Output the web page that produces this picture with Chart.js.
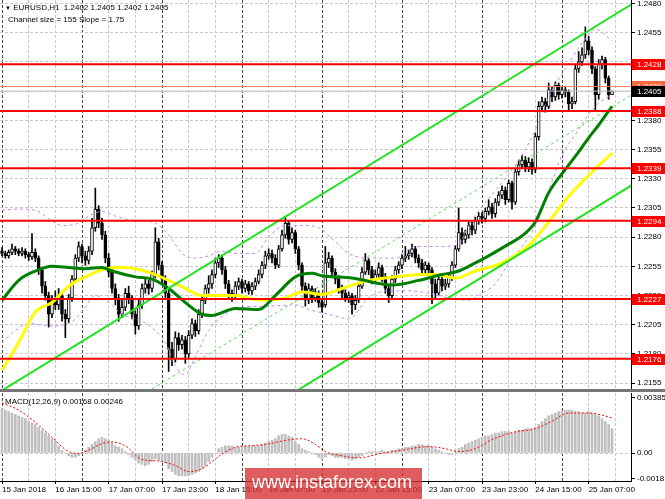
<!DOCTYPE html>
<html>
<head>
<meta charset="utf-8">
<script src="https://cdn.jsdelivr.net/npm/chart.js@4.4.0/dist/chart.umd.min.js"></script>
<style>
  body { margin:0; background:#fff; width:665px; height:499px; overflow:hidden; position:relative;
         font-family:"Liberation Sans", Arial, sans-serif; }
  canvas { position:absolute; left:0; }
  #main { top:0; }
  #macd { top:391px; }
  .txt { position:absolute; font-size:8px; line-height:10px; color:#000; white-space:pre; }
  #sep { position:absolute; left:0; top:389px; width:665px; height:3px; background:#767676; }
  #wm { position:absolute; left:245px; top:468px; width:177px; height:31px; background:rgba(214,48,48,.78); }
  #wm span { position:absolute; left:7px; top:5px; font-size:18px; line-height:18px; color:#fff; }
</style>
</head>
<body>
<canvas id="main" width="665" height="389"></canvas>
<canvas id="macd" width="665" height="108"></canvas>
<div id="sep"></div>
<div class="txt" style="left:5px;top:3px"><span style="font-size:6px">▼</span> EURUSD,H1  1.2402 1.2405 1.2402 1.2405</div>
<div class="txt" style="left:8px;top:15px">Channel size = 155 Slope = 1.75</div>
<div class="txt" style="left:5px;top:397px">MACD(12,26,9) 0.00168 0.00246</div>
<div id="wm"><span>www.instaforex.com</span></div>

<script>
// EURUSD H1, one bar per hour. Candle values are pips above 1.2000.
const BASE = 1.2, PIP = 0.0001;

const opens = [268,266,264,267,270,268,266,268,265,263, 267,262,252,238,230,214,226,222,230,214,
  210,228,244,262,272,264,260,268,288,304, 292,282,262,250,236,228,214,220,232,228,
  214,204,222,236,240,236,248,276,256,244, 232,184,176,194,188,192,180,196,206,200,
  214,226,236,240,248,258,262,252,240,232, 230,238,242,236,240,234,238,242,248,256,
  264,266,262,256,270,282,292,278,284,270, 256,238,226,236,228,232,224,222,258,262,
  250,244,236,232,228,230,222,226,238,250, 260,252,244,248,254,246,236,230,244,252,
  256,262,264,266,270,262,258,252,256,252, 240,232,244,238,240,246,256,270,284,278,
  282,290,286,294,298,296,302,306,300,310, 316,320,312,326,310,336,342,346,340,344,
  338,366,392,396,392,406,400,410,402,406, 404,394,396,424,430,436,448,440,424,402,
  428,432,416,402];
const highs = [271,268,269,274,272,270,271,270,267,283, 270,264,254,242,233,230,234,236,232,218,
  231,247,265,276,274,268,272,296,322,307, 296,285,266,253,240,231,226,236,238,230,
  217,226,240,245,243,251,288,279,259,247, 235,190,199,198,196,195,200,210,209,218,
  229,239,247,252,262,265,264,255,243,235, 242,245,244,243,242,241,245,252,259,268,
  270,269,265,273,286,297,294,288,286,272, 258,241,240,238,236,234,227,272,267,264,
  253,247,239,235,233,232,230,241,254,266, 262,255,252,258,256,249,239,247,255,259,
  265,272,269,274,272,265,261,259,258,254, 244,247,246,244,249,259,273,305,288,286,
  293,293,297,301,301,305,312,309,313,319, 324,323,329,328,339,346,350,349,348,347,
  369,396,400,399,412,409,413,412,409,409, 406,400,427,439,442,460,452,443,426,432,
  435,434,418,405];
const lows = [264,262,262,265,265,264,264,262,260,261, 259,248,232,226,203,211,218,218,208,194,
  207,225,241,259,258,256,257,265,285,288, 278,258,246,232,222,208,211,217,223,210,
  197,201,219,232,231,233,245,252,240,228, 165,170,173,183,184,172,177,193,195,197,
  211,223,232,236,245,254,248,236,228,225, 228,235,232,233,231,231,235,240,245,253,
  261,258,253,254,268,279,274,275,266,252, 234,221,223,224,225,220,216,220,254,246,
  240,232,228,225,224,214,218,224,236,248, 248,240,241,245,242,232,224,228,241,249,
  253,259,261,263,258,254,248,249,248,223, 228,230,234,235,237,243,254,268,274,275,
  279,282,283,291,292,293,299,296,297,307, 313,308,310,304,308,333,339,336,336,334,
  335,363,388,387,390,396,397,398,399,400, 388,390,394,421,427,433,436,420,389,398,
  424,412,398,402];
const closes = [266,264,267,270,268,266,268,265,263,267, 262,252,238,230,214,226,222,230,214,210,
  228,244,262,272,264,260,268,288,304,292, 282,262,250,236,228,214,220,232,228,214,
  204,222,236,240,236,248,276,256,244,232, 184,176,194,188,192,180,196,206,200,214,
  226,236,240,248,258,262,252,240,232,230, 238,242,236,240,234,238,242,248,256,264,
  266,262,256,270,282,292,278,284,270,256, 238,226,236,228,232,224,220,258,262,250,
  244,236,232,228,230,222,226,238,250,260, 252,244,248,254,246,236,230,244,252,256,
  262,264,266,270,262,258,252,256,252,240, 232,244,238,240,246,256,270,284,278,282,
  290,286,294,298,296,302,306,300,310,316, 320,312,326,310,336,342,346,340,344,338,
  366,392,396,392,406,400,410,402,406,404, 394,396,424,430,436,448,440,424,402,428,
  432,416,402,405];

// moving averages and bands: [bar, pips above 1.2000]
const maGreen = [[0,226],[5,243],[10,251],[15,255],[20,254],[25,253],[30,254],[33,251],[40,246],[45,244],
  [50,236],[55,224],[60,214],[63,213],[70,219],[77,218],[82,230],[88,246],[93,249],[96,247],[105,245],
  [117,239],[125,243],[132,248],[137,251],[142,258],[146,264],[152,274],[156,281],[160,293],[164,318],
  [169,338],[173,353],[176,365],[179,376],[182,388],[183,392]];
const maYellow = [[0,166],[5,190],[10,216],[15,224],[20,238],[25,246],[30,252],[35,254],[40,253],[45,249],
  [50,243],[55,236],[60,230],[65,230],[70,230],[75,227],[80,226],[85,228],[90,233],[96,231],[102,236],
  [110,243],[118,246],[126,248],[130,248],[136,245],[142,251],[150,258],[158,273],[164,293],[170,315],
  [176,333],[183,352]];
const bandUpper = [[0,303],[5,304],[10,303],[14,296],[18,290],[22,291],[26,298],[30,302],[34,298],[40,294],
  [45,293],[50,282],[54,266],[58,262],[62,264],[66,268],[70,266],[76,266],[80,280],[85,290],[90,290],
  [95,288],[100,276],[104,266],[110,262],[118,262],[124,272],[132,272],[137,274],[140,290],[144,306],
  [148,320],[152,334],[156,350],[160,372],[164,400],[169,424],[174,446],[178,458],[183,448]];
const bandLower = [[0,190],[4,200],[8,206],[14,204],[20,206],[24,216],[28,230],[32,224],[36,214],[42,208],
  [46,200],[49,190],[52,170],[55,162],[58,178],[62,200],[66,212],[72,220],[80,221],[88,222],[92,218],
  [98,214],[104,210],[110,228],[116,234],[122,234],[128,232],[134,228],[140,226],[144,232],[148,240],
  [152,258],[156,272],[160,290],[164,320],[168,350],[172,368],[178,392],[183,402]];

// MACD(12,26,9), units of 0.0001
const macdHist = [31,30,29,28,27,26,25,24,22,21, 20,18,16,14,12,10,8,5,2,0,
  -2,-3,-3,-2,0,2,4,6,8,10, 11,10,9,7,5,4,3,1,-1,-3,
  -5,-7,-8,-9,-8,-6,-4,-5,-6,-7, -11,-13,-15,-16,-16,-16,-16,-15,-14,-13,
  -11,-9,-6,-3,0,3,4,5,5,5, 4,4,4,5,5,5,5,5,6,7,
  8,9,10,12,13,13,12,11,8,6, 3,2,1,0,-1,-3,-5,-3,-1,-2,
  -3,-3,-3,-4,-4,-5,-4,-3,-2,0, 1,1,1,1,2,1,1,2,2,3,
  3,4,4,5,5,6,6,5,5,4, 3,2,1,0,-1,-1,1,3,4,6,
  7,8,9,10,11,12,12,13,14,14, 15,15,15,14,15,16,16,17,17,17,
  18,20,22,24,26,27,28,29,29,30, 30,30,29,29,28,28,29,28,27,26,
  24,22,20,17];
const macdSignal = [[0,35],[5,30],[10,21.5],[15,11],[20,1],[23,-0.2],[26,2],[30,6.6],[33,7.7],[37,5],
  [42,-4.5],[47,-5.6],[52,-8.8],[56,-13],[60,-11],[65,-2.4],[70,4],[74,5],[79,6],[85,8.8],[90,10],
  [94,6],[97,1],[101,-1.5],[107,-3.4],[113,-0.6],[120,2],[128,4.5],[133,3],[137,1],[142,3],[147,9.4],
  [154,14.8],[160,17],[165,22.3],[170,28],[176,28],[180,26.5],[183,24.6]];

// chart objects
const redLevels = [1.2428, 1.2388, 1.2339, 1.2294, 1.2227, 1.2176];
const bid = 1.2405, ask = 1.2409;
const channelBars = [-1, 189];
const channelTop = [1.2147, 1.24795];
const channelSize = 0.0155;

// axes
const priceTicks = [1.2155,1.2180,1.2205,1.2230,1.2255,1.2280,1.2305,1.2330,1.2355,1.2380,1.2405,1.2430,1.2455,1.2480];
const macdTicks = [-0.0018, 0, 0.00385];
const macdTickLabels = ['-0.0018', '0.00', '0.00385'];
const timeLabels = ['15 Jan 2018','16 Jan 15:00','17 Jan 07:00','17 Jan 23:00','18 Jan 15:00','19 Jan 07:00',
  '19 Jan 23:00','22 Jan 15:00','23 Jan 07:00','23 Jan 23:00','24 Jan 15:00','25 Jan 07:00'];

const X_MIN = -0.6, X_MAX = 188.7;
const Y_MIN = 1.2150, Y_MAX = 1.2483;
const M_MIN = -0.00196, M_MAX = 0.0042;

Chart.defaults.font.family = '"Liberation Sans", Arial, sans-serif';
Chart.defaults.font.size = 8;
Chart.defaults.color = '#000';

const px = v => BASE + v * PIP;
const gridBars = [];
for (let i = 0; i <= 184; i += 8) gridBars.push(i);
const gridColor = c => (c.tick && c.tick.value % 24 === 0) ? '#444' : '#c8c8c8';

const line = (pts, color, width, dash, order, smooth) => ({
  type: 'line', data: pts, borderColor: color, borderWidth: width, borderDash: dash || [],
  pointRadius: 0, fill: false, order, cubicInterpolationMode: smooth ? 'monotone' : 'default'
});
const sparse = arr => arr.map(([i, v]) => ({x: i, y: px(v)}));
const flat = v => [{x: channelBars[0], y: v}, {x: channelBars[1], y: v}];
const chanLine = off => channelBars.map((b, k) => ({x: b, y: channelTop[k] - off}));

const bars = closes.map((_, i) => i);
const candleColor = c => closes[c.dataIndex] >= opens[c.dataIndex] ? '#fff' : '#000';

const levelBoxes = {
  id: 'levelBoxes',
  afterDraw(chart) {
    const {ctx, scales: {y}} = chart;
    ctx.save();
    ctx.font = '8px "Liberation Sans", Arial';
    ctx.textBaseline = 'middle';
    const box = (v, bg) => {
      const yy = Math.round(y.getPixelForValue(v));
      ctx.fillStyle = bg;
      ctx.fillRect(y.left + 1, yy - 5, y.width, 11);
      ctx.fillStyle = '#fff';
      ctx.fillText(v.toFixed(4), y.left + 6, yy + 0.5);
    };
    redLevels.forEach(v => box(v, '#ff0000'));
    box(ask, '#ff6a3d');
    box(bid, '#000');
    ctx.restore();
  }
};

new Chart(document.getElementById('main'), {
  type: 'bar',
  data: {
    datasets: [
      line(flat(ask), '#ff7f50', 1, null, 3),
      line(flat(bid), '#c0c0c0', 1, null, 3),
      ...redLevels.map(v => line(flat(v), '#ff0000', 2, null, 2)),
      line(chanLine(0), '#22e322', 2, null, 4),
      line(chanLine(channelSize), '#22e322', 2, null, 4),
      line(chanLine(channelSize / 2), '#55e055', 1, [3, 3], 4),
      line(sparse(maGreen), '#008000', 3, null, 6, true),
      line(sparse(maYellow), '#ffff00', 3, null, 6, true),
      line(sparse(bandUpper), '#c08ce8', 1, [3, 3], 8, true),
      line(sparse(bandLower), '#c08ce8', 1, [3, 3], 8, true),
      { type: 'bar', order: 10, grouped: false, barThickness: 3, minBarLength: 1,
        borderColor: '#000', borderWidth: 1, borderSkipped: false, backgroundColor: candleColor,
        data: bars.map(i => ({x: i, y: [px(opens[i]), px(closes[i])]})) },
      { type: 'bar', order: 11, grouped: false, barThickness: 1, backgroundColor: '#000',
        data: bars.map(i => ({x: i, y: [px(lows[i]), px(highs[i])]})) }
    ]
  },
  options: {
    responsive: false, animation: false, events: [],
    layout: { padding: 0 },
    plugins: { legend: { display: false }, tooltip: { enabled: false } },
    scales: {
      x: {
        type: 'linear', min: X_MIN, max: X_MAX, offset: false,
        grid: { offset: false, drawTicks: false, color: gridColor },
        border: { display: false, dash: [3, 2] },
        ticks: { display: false },
        afterBuildTicks: s => { s.ticks = gridBars.map(v => ({value: v})); },
        afterFit: s => { s.height = 0; s.paddingLeft = 0; s.paddingRight = 0; }
      },
      y: {
        position: 'right', min: Y_MIN, max: Y_MAX, beginAtZero: false,
        grid: { color: '#c8c8c8', tickLength: 4, tickColor: '#000' },
        border: { display: true, color: '#000', dash: [3, 2] },
        ticks: { padding: 2, callback: v => v.toFixed(4) },
        afterBuildTicks: s => { s.ticks = priceTicks.map(v => ({value: v})); },
        afterFit: s => { s.width = 34; s.paddingTop = 0; s.paddingBottom = 0; }
      }
    }
  },
  plugins: [levelBoxes]
});

new Chart(document.getElementById('macd'), {
  type: 'bar',
  data: {
    datasets: [
      { type: 'line', order: 1, data: macdSignal.map(([i, v]) => ({x: i, y: v * PIP})),
        borderColor: '#ff0000', borderWidth: 1, borderDash: [2, 2], pointRadius: 0,
        cubicInterpolationMode: 'monotone', fill: false },
      { type: 'bar', order: 2, barThickness: 2, backgroundColor: '#c0c0c0',
        data: macdHist.map((v, i) => ({x: i, y: v * PIP})) }
    ]
  },
  options: {
    responsive: false, animation: false, events: [],
    layout: { padding: { top: 2 } },
    plugins: { legend: { display: false }, tooltip: { enabled: false } },
    scales: {
      x: {
        type: 'linear', min: X_MIN, max: X_MAX, offset: false,
        grid: { offset: false, color: gridColor, tickLength: 3,
                tickColor: c => c.tick.value % 16 === 0 ? '#000' : 'rgba(0,0,0,0)' },
        border: { display: true, color: '#000', dash: [3, 2] },
        ticks: { autoSkip: false, maxRotation: 0, align: 'start', padding: 1,
                 callback: v => v % 16 === 0 ? timeLabels[v / 16] : '' },
        afterBuildTicks: s => { s.ticks = gridBars.map(v => ({value: v})); },
        afterFit: s => { s.height = 18; s.paddingLeft = 0; s.paddingRight = 0; }
      },
      y: {
        position: 'right', min: M_MIN, max: M_MAX, beginAtZero: false,
        grid: { color: c => c.tick && c.tick.value === 0 ? '#c8c8c8' : 'rgba(0,0,0,0)',
                tickLength: 4, tickColor: '#000' },
        border: { display: true, color: '#000', dash: [3, 2] },
        ticks: { padding: 2, callback: v => macdTickLabels[macdTicks.indexOf(v)] },
        afterBuildTicks: s => { s.ticks = macdTicks.map(v => ({value: v})); },
        afterFit: s => { s.width = 34; s.paddingTop = 0; s.paddingBottom = 0; }
      }
    }
  }
});
</script>
</body>
</html>
